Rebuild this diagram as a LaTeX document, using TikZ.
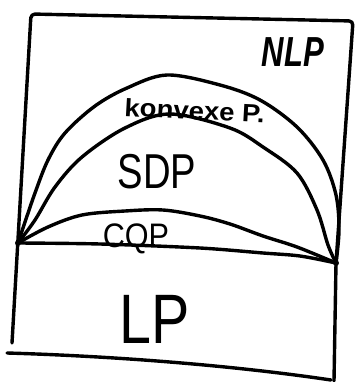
\documentclass[tikz,border=0pt]{standalone}
\usepackage{fontspec}
\setmainfont{Liberation Sans}
\begin{document}
\begin{tikzpicture}[x=1pt,y=-1pt,line cap=round,line join=round,
  pen/.style={line width=3.4pt,black},
  lbl/.style={inner sep=0pt,anchor=base,text=black}]
\useasboundingbox[fill=white] (0,0) rectangle (354,382);

% corners of the sets
\coordinate (L) at (18,243);
\coordinate (R) at (336,263);

% outer frame (NLP)
\coordinate (lb) at (12,343);
\coordinate (tl) at (31,14);
\coordinate (tr) at (353,21);
\coordinate (br) at (334,381);
\coordinate (bl) at (7,353);
\coordinate (be) at (331,380);
\draw[pen,rounded corners=4pt] (lb) -- (tl) -- (tr) -- (R) -- (br);
\draw[pen] (bl) .. controls (110,356) and (230,365) .. (be);

% convex programs
\draw[pen] plot[smooth,tension=0.55] coordinates {(L) (23,228) (35,193) (48,160) (65,133) (95,106) (127,88) (167,75) (220,85) (260,100) (297,127) (323,160) (336,195) (339,230) (R)};
% SDP
\draw[pen] plot[smooth,tension=0.55] coordinates {(L) (35,220) (55,187) (82,157) (125,128) (170,114) (230,128) (263,147) (297,173) (317,210) (328,245) (R)};
% CQP
\draw[pen] plot[smooth,tension=0.55] coordinates {(L) (48,227) (82,215) (125,211) (163,210) (200,216) (230,224) (263,236) (297,247) (R)};
% LP boundary
\draw[pen] plot[smooth,tension=0.5] coordinates {(L) (100,244) (200,248) (263,253) (300,256) (R)};

\fill (L) circle (3pt);
\fill (R) circle (3pt);

% labels
\node[lbl,font=\fontsize{42}{42}\selectfont\bfseries\itshape,xscale=0.74] (nlp) at (293,67) {NLP};
\node[lbl,anchor=base west,font=\fontsize{25}{25}\selectfont\bfseries,xscale=1.1,rotate=-3] (konv) at (124,116) {konvexe P.};
\node[lbl,font=\fontsize{49}{49}\selectfont,xscale=0.78] (sdp) at (157,188) {SDP};
\node[lbl,font=\fontsize{34}{34}\selectfont,xscale=0.9] (cqp) at (136,247) {CQP};
\node[lbl,font=\fontsize{70}{70}\selectfont,xscale=0.82] (lp) at (155,343) {LP};
\end{tikzpicture}
\end{document}
